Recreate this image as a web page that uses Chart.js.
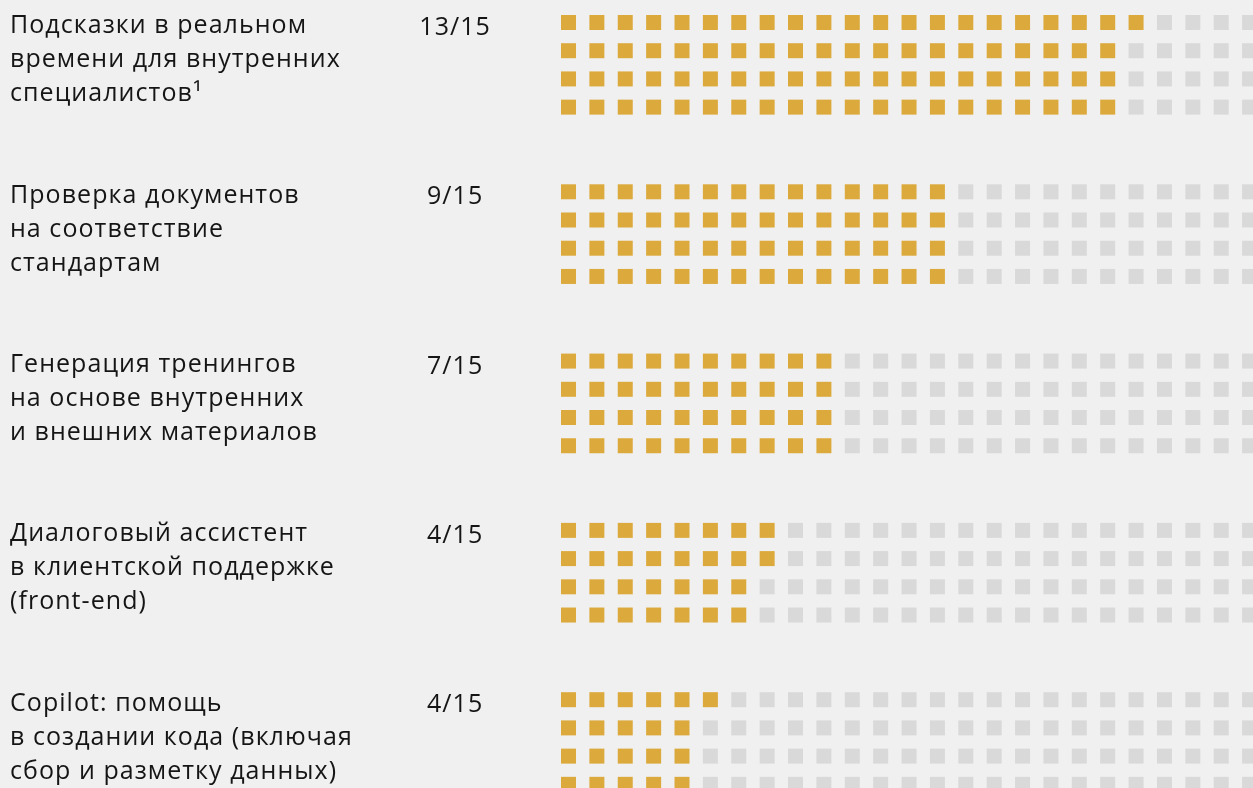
<!DOCTYPE html>
<html lang="ru">
<head>
<meta charset="utf-8">
<title>Оценка сценариев</title>
<script src="https://cdn.jsdelivr.net/npm/chart.js@4"></script>
<style>
  html, body { margin: 0; padding: 0; background: #f0f0f0; }
  .chart-box { position: relative; width: 1253px; height: 788px; }
</style>
</head>
<body>
<div class="chart-box">
  <canvas id="squares"></canvas>
</div>
<script>
// Use-case names (each is split over three lines)
const categories = [
  ["Подсказки в реальном", "времени для внутренних", "специалистов¹"],
  ["Проверка документов", "на соответствие", "стандартам"],
  ["Генерация тренингов", "на основе внутренних", "и внешних материалов"],
  ["Диалоговый ассистент", "в клиентской поддержке", "(front-end)"],
  ["Copilot: помощь", "в создании кода (включая", "сбор и разметку данных)"],
];
const scores = ["13/15", "9/15", "7/15", "4/15", "4/15"];
// filled squares in each of the four rows of a group
const filledSquares = [
  [21, 20, 20, 20],
  [14, 14, 14, 14],
  [10, 10, 10, 10],
  [8, 8, 7, 7],
  [6, 5, 5, 5],
];
const squaresPerRow = 25;
const groupStep = 6; // 4 rows + 2 empty ones between groups

const GOLD = "#dcaa3c";
const GREY = "#d9d9d9";
const TEXT = "#151515";
const FONT = "'Open Sans', 'Noto Sans', sans-serif";

const filled = [];
const empty = [];
filledSquares.forEach((rows, g) => {
  rows.forEach((n, k) => {
    for (let c = 0; c < squaresPerRow; c++) {
      const p = { x: c, y: g * groupStep + k };
      (c < n ? filled : empty).push(p);
    }
  });
});

const squareSide = 15;
const pointRadius = squareSide / (2 * Math.SQRT1_2); // 'rect' side = 2 * r * sqrt(1/2)

const yMin = -0.797;
const yMax = 27.13;

// the labels use a slightly wider tracking
const letterSpacing = {
  id: "letterSpacing",
  beforeDraw(chart) {
    chart.ctx.letterSpacing = "1.05px";
  },
};

// no extra room for the multi-line labels at the top and bottom
const noPad = (width) => (scale) => {
  scale.width = width;
  scale.paddingTop = 0;
  scale.paddingBottom = 0;
};

const ctx = document.getElementById("squares").getContext("2d");
new Chart(ctx, {
  type: "scatter",
  data: {
    datasets: [
      { data: filled, backgroundColor: GOLD },
      { data: empty, backgroundColor: GREY },
    ].map((ds) => ({
      ...ds,
      pointStyle: "rect",
      pointRadius: pointRadius,
      pointBorderWidth: 0,
      clip: false,
    })),
  },
  plugins: [letterSpacing],
  options: {
    responsive: true,
    maintainAspectRatio: false,
    animation: false,
    events: [],
    layout: { autoPadding: false, padding: { left: 10, right: 0, top: 0, bottom: 0 } },
    plugins: { legend: { display: false }, tooltip: { enabled: false } },
    scales: {
      x: {
        type: "linear",
        min: -0.5,
        max: 24.12,
        display: false,
      },
      y: {
        type: "linear",
        position: "left",
        reverse: true,
        min: yMin,
        max: yMax,
        weight: 2,
        grid: { display: false },
        border: { display: false },
        afterBuildTicks: (scale) => {
          scale.ticks = categories.map((_, i) => ({ value: i * groupStep + 1.34 }));
        },
        afterFit: noPad(400),
        ticks: {
          autoSkip: false,
          crossAlign: "far",
          padding: 0,
          color: TEXT,
          font: { family: FONT, size: 25, lineHeight: "34px" },
          callback: (value, index) => categories[index],
        },
      },
      yScore: {
        type: "linear",
        position: "left",
        reverse: true,
        min: yMin,
        max: yMax,
        weight: 1,
        grid: { display: false },
        border: { display: false },
        afterBuildTicks: (scale) => {
          scale.ticks = scores.map((_, i) => ({ value: i * groupStep + 0.19 }));
        },
        afterFit: noPad(144.3),
        ticks: {
          autoSkip: false,
          crossAlign: "center",
          padding: 58,
          color: TEXT,
          font: { family: FONT, size: 25 },
          callback: (value, index) => scores[index],
        },
      },
    },
  },
});
</script>
</body>
</html>
